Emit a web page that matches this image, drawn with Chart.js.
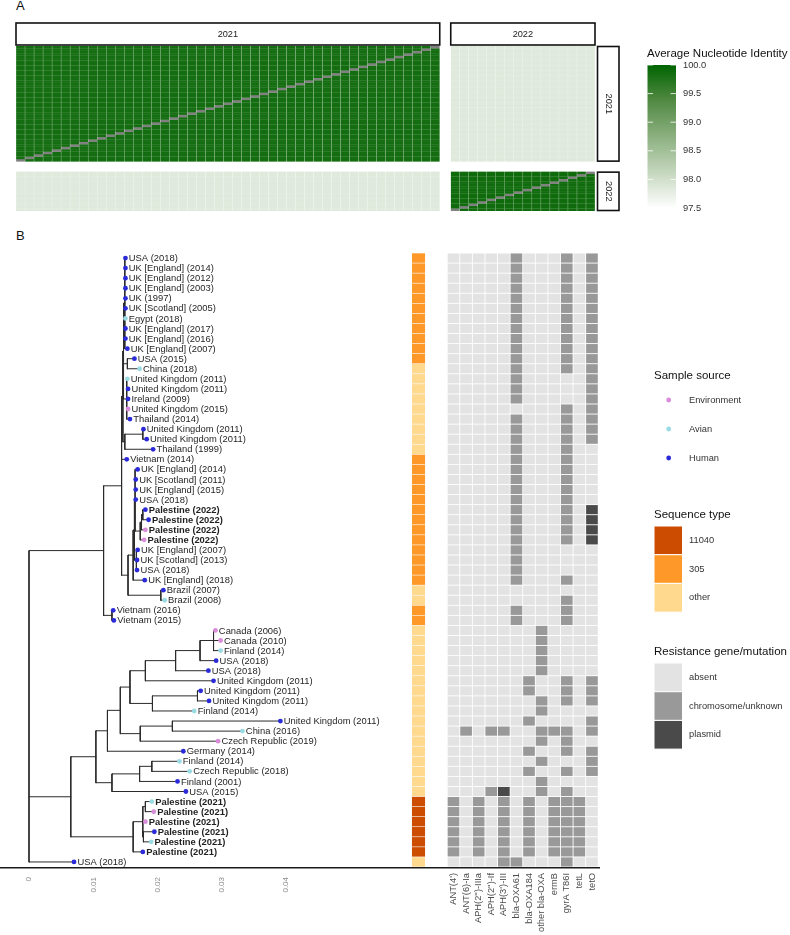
<!DOCTYPE html>
<html>
<head>
<meta charset="utf-8">
<title>ANI and phylogeny</title>
<script src="https://cdn.jsdelivr.net/npm/chart.js@4.4.1/dist/chart.umd.min.js"></script>
<style>
  html, body { margin: 0; padding: 0; background: #fff; }
  body { position: relative; width: 790px; height: 935px; overflow: hidden; font-family: "Liberation Sans", Arial, sans-serif; }
  canvas { position: absolute; }
  .tag { position: absolute; font-size: 13px; line-height: 13px; color: #111; }
</style>
</head>
<body>
<div class="tag" style="left:16px; top:-1px;">A</div>
<div class="tag" style="left:16px; top:229px;">B</div>
<canvas id="aniChart" width="790" height="225" style="left:0; top:0;"></canvas>
<canvas id="treeChart" width="400" height="695" style="left:0; top:240px;"></canvas>
<canvas id="heatChart" width="390" height="695" style="left:400px; top:240px;"></canvas>
<script>
const FONT = '"Liberation Sans", Arial, sans-serif';
Chart.defaults.font.family = FONT;
Chart.defaults.color = '#333';

// ---- panel A: average nucleotide identity between isolates ----
const aniYears = ['2021', '2022'];
const aniSampleCount = [47, 16];
const aniWithinYear = [99.85, 99.88];
const aniBetweenYears = 97.84;
const aniLegendTicks = [100.0, 99.5, 99.0, 98.5, 98.0, 97.5];

// ---- panel B: tree tips (top to bottom) ----
const tipLabels = [
  'USA (2018)', 'UK [England] (2014)', 'UK [England] (2012)', 'UK [England] (2003)', 'UK (1997)',
  'UK [Scotland] (2005)', 'Egypt (2018)', 'UK [England] (2017)', 'UK [England] (2016)', 'UK [England] (2007)',
  'USA (2015)', 'China (2018)', 'United Kingdom (2011)', 'United Kingdom (2011)', 'Ireland (2009)',
  'United Kingdom (2015)', 'Thailand (2014)', 'United Kingdom (2011)', 'United Kingdom (2011)', 'Thailand (1999)',
  'Vietnam (2014)', 'UK [England] (2014)', 'UK [Scotland] (2011)', 'UK [England] (2015)', 'USA (2018)',
  'Palestine (2022)', 'Palestine (2022)', 'Palestine (2022)', 'Palestine (2022)', 'UK [England] (2007)',
  'UK [Scotland] (2013)', 'USA (2018)', 'UK [England] (2018)', 'Brazil (2007)', 'Brazil (2008)',
  'Vietnam (2016)', 'Vietnam (2015)', 'Canada (2006)', 'Canada (2010)', 'Finland (2014)',
  'USA (2018)', 'USA (2018)', 'United Kingdom (2011)', 'United Kingdom (2011)', 'United Kingdom (2011)',
  'Finland (2014)', 'United Kingdom (2011)', 'China (2016)', 'Czech Republic (2019)', 'Germany (2014)',
  'Finland (2014)', 'Czech Republic (2018)', 'Finland (2001)', 'USA (2015)', 'Palestine (2021)',
  'Palestine (2021)', 'Palestine (2021)', 'Palestine (2021)', 'Palestine (2021)', 'Palestine (2021)',
  'USA (2018)'
];
const tipSource = [
  'Human', 'Human', 'Human', 'Human', 'Human',
  'Human', 'Avian', 'Human', 'Human', 'Human',
  'Human', 'Avian', 'Avian', 'Human', 'Human',
  'Environment', 'Human', 'Human', 'Human', 'Human',
  'Human', 'Human', 'Human', 'Human', 'Human',
  'Human', 'Human', 'Environment', 'Environment', 'Human',
  'Human', 'Human', 'Human', 'Human', 'Avian',
  'Human', 'Human', 'Environment', 'Environment', 'Avian',
  'Human', 'Human', 'Human', 'Human', 'Human',
  'Avian', 'Human', 'Avian', 'Environment', 'Human',
  'Avian', 'Avian', 'Human', 'Human', 'Avian',
  'Environment', 'Environment', 'Human', 'Avian', 'Human',
  'Human'
];
const tipDivergence = [
  0.0150, 0.0150, 0.0150, 0.0150, 0.0150, 0.0150, 0.0150, 0.0150, 0.0150, 0.0153,
  0.0164, 0.0172, 0.0153, 0.0154, 0.0154, 0.0154, 0.0157, 0.0178, 0.0183, 0.0193,
  0.0152, 0.0169, 0.0166, 0.0166, 0.0166, 0.0181, 0.0186, 0.0181, 0.0179, 0.0169,
  0.0168, 0.0168, 0.0180, 0.0209, 0.0211, 0.0131, 0.0132, 0.0290, 0.0298, 0.0298,
  0.0291, 0.0279, 0.0287, 0.0267, 0.0280, 0.0257, 0.0391, 0.0332, 0.0294, 0.0240,
  0.0234, 0.0250, 0.0231, 0.0244, 0.0191, 0.0194, 0.0181, 0.0195, 0.0190, 0.0177,
  0.0070
];
// index of the internal node each tip hangs from
const tipParent = [
  5, 5, 5, 5, 5, 5, 5, 5, 5, 5,
  6, 6, 7, 7, 7, 7, 7, 9, 9, 8,
  2, 13, 13, 13, 13, 16, 16, 15, 14, 17,
  17, 17, 11, 18, 18, 19, 19, 28, 28, 28,
  27, 26, 25, 30, 30, 29, 32, 32, 31, 22,
  35, 35, 34, 33, 38, 38, 37, 39, 39, 36,
  0
];
// internal nodes: parent node and divergence from root
const nodeParent = [
  -1, 0, 1, 2, 3, 4, 4, 4, 3, 8,
  2, 10, 11, 12, 13, 14, 15, 12, 10, 1,
  0, 20, 21, 22, 23, 24, 25, 26, 27, 24,
  29, 23, 31, 21, 33, 34, 20, 36, 37, 37
];
const nodeDivergence = [
  0, 0.0116, 0.0144, 0.0146, 0.0147, 0.0149, 0.0153, 0.0152, 0.0149, 0.0177,
  0.0154, 0.0162, 0.0164, 0.0165, 0.0173, 0.0175, 0.0177, 0.0167, 0.0205, 0.0129,
  0.0065, 0.0104, 0.0122, 0.0142, 0.0157, 0.0181, 0.0228, 0.0266, 0.0287, 0.0192,
  0.0262, 0.0173, 0.0223, 0.0129, 0.0172, 0.0191, 0.0162, 0.0177, 0.0181, 0.0178
];
const treeTicks = [0, 0.01, 0.02, 0.03, 0.04];

const sourceNames = ['Environment', 'Avian', 'Human'];
const sourceColors = ['#d98cd9', '#9adbe3', '#2a2ad9'];

const stTypes = ['11040', '305', 'other'];
const stColors = ['#cc4c02', '#fe9929', '#fed98e'];
const tipST = [
  '305', '305', '305', '305', '305', '305', '305', '305', '305', '305',
  '305', 'other', 'other', 'other', 'other', 'other', 'other', 'other', 'other', 'other',
  '305', '305', '305', '305', '305', '305', '305', '305', '305', '305',
  '305', '305', '305', 'other', 'other', '305', '305', 'other', 'other', 'other',
  'other', 'other', 'other', 'other', 'other', 'other', 'other', 'other', 'other', 'other',
  'other', 'other', 'other', 'other', '11040', '11040', '11040', '11040', '11040', '11040',
  'other'
];

const genes = ["ANT(4')", 'ANT(6)-Ia', "APH(2'')-IIIa", "APH(2'')-If", "APH(3')-III", 'bla-OXA61',
  'bla-OXA184', 'other bla-OXA', 'ermB', 'gyrA T86I', 'tetL', 'tetO'];
const resLevels = ['absent', 'chromosome/unknown', 'plasmid'];
const resColors = ['#e3e3e3', '#999999', '#4a4a4a'];
// one string per tip, one digit per gene: 0 absent, 1 chromosome/unknown, 2 plasmid
const resistance = [
  '000001000101', '000001000101', '000001000101', '000001000101', '000001000101',
  '000001000101', '000001000101', '000001000101', '000001000101', '000001000101',
  '000001000101', '000001000101', '000001000001', '000001000001', '000001000001',
  '000000000101', '000001000101', '000001000101', '000001000101', '000001000100',
  '000001000100', '000001000100', '000001000100', '000001000100', '000001000100',
  '000001000102', '000001000102', '000001000102', '000001000102', '000001000000',
  '000001000000', '000001000000', '000001000100', '000000000000', '000000000100',
  '000001000100', '000001000100', '000000010000', '000000010000', '000000010000',
  '000000010000', '000000010000', '000000100101', '000000100101', '000000010101',
  '000000010000', '000000100001', '010110011101', '000000010100', '000000100101',
  '000000010001', '000000100101', '000000010000', '000120010100', '101010101110',
  '101010101110', '101010101110', '101010101110', '101010101110', '101010101110',
  '000011000100'
];

// ---------- panel A ----------
const facetGapX = 1.22, facetGapY = 4.07;
const aniStops = [[255, 255, 255], [197, 215, 190], [139, 176, 127], [82, 138, 68], [0, 100, 0]];
function aniColor(v) {
  const t = Math.max(0, Math.min(1, (v - 97.5) / 2.5)) * 4;
  const i = Math.min(3, Math.floor(t)), f = t - i;
  const c = aniStops[i].map((a, k) => Math.round(a + (aniStops[i + 1][k] - a) * f));
  return `rgb(${c[0]},${c[1]},${c[2]})`;
}

const aniPlugin = {
  id: 'aniTiles',
  afterDraw(chart) {
    const { ctx, scales: { x, y } } = chart;
    const colStart = [0, aniSampleCount[0] + facetGapX];
    const rowStart = [0, aniSampleCount[0] + facetGapY];
    ctx.save();
    aniYears.forEach((ry, ri) => {
      aniYears.forEach((cy, ci) => {
        for (let i = 0; i < aniSampleCount[ri]; i++) {
          const r = rowStart[ri] + aniSampleCount[ri] - 1 - i;
          const y0 = y.getPixelForValue(r), y1 = y.getPixelForValue(r + 1);
          const top = i === aniSampleCount[ri] - 1 ? y0 : y0 - 0.25;
          for (let j = 0; j < aniSampleCount[ci]; j++) {
            const v = ri === ci ? (i === j ? null : aniWithinYear[ri]) : aniBetweenYears;
            const x0 = x.getPixelForValue(colStart[ci] + j), x1 = x.getPixelForValue(colStart[ci] + j + 1);
            ctx.fillStyle = v === null ? '#808080' : aniColor(v);
            ctx.fillRect(x0 + 0.15, top, x1 - x0 - 0.3, y1 - top);
          }
        }
      });
    });

    // facet strips
    ctx.lineWidth = 1.6;
    ctx.strokeStyle = '#111';
    ctx.font = '9.2px ' + FONT;
    ctx.textAlign = 'center';
    ctx.textBaseline = 'middle';
    aniYears.forEach((yr, k) => {
      const x0 = x.getPixelForValue(colStart[k]), x1 = x.getPixelForValue(colStart[k] + aniSampleCount[k]);
      ctx.fillStyle = '#fff';
      ctx.fillRect(x0, 23, x1 - x0, 22);
      ctx.strokeRect(x0, 23, x1 - x0, 22);
      ctx.fillStyle = '#1a1a1a';
      ctx.fillText(yr, (x0 + x1) / 2, 34);

      const y0 = y.getPixelForValue(rowStart[k]), y1 = y.getPixelForValue(rowStart[k] + aniSampleCount[k]);
      ctx.fillStyle = '#fff';
      ctx.fillRect(597.5, y0 + 0.5, 21.5, y1 - y0 - 1);
      ctx.strokeRect(597.5, y0 + 0.5, 21.5, y1 - y0 - 1);
      ctx.save();
      ctx.translate(608.2, (y0 + y1) / 2);
      ctx.rotate(Math.PI / 2);
      ctx.fillStyle = '#1a1a1a';
      ctx.fillText(yr, 0, 0);
      ctx.restore();
    });

    // colour bar legend
    const bx = 647.5, by = 65, bw = 28.5, bh = 143;
    ctx.textAlign = 'left';
    ctx.font = '11.5px ' + FONT;
    ctx.fillStyle = '#111';
    ctx.fillText('Average Nucleotide Identity', 647, 54);
    const grad = ctx.createLinearGradient(0, by, 0, by + bh);
    for (let k = 0; k <= 20; k++) grad.addColorStop(k / 20, aniColor(100 - 2.5 * k / 20));
    ctx.fillStyle = grad;
    ctx.fillRect(bx, by, bw, bh);
    ctx.font = '9.3px ' + FONT;
    ctx.strokeStyle = 'rgba(255,255,255,0.8)';
    ctx.lineWidth = 1;
    aniLegendTicks.forEach(v => {
      const ty = by + (100 - v) / 2.5 * bh;
      ctx.beginPath();
      ctx.moveTo(bx, ty); ctx.lineTo(bx + 5.5, ty);
      ctx.moveTo(bx + bw - 5.5, ty); ctx.lineTo(bx + bw, ty);
      ctx.stroke();
      ctx.fillStyle = '#333';
      ctx.fillText(v.toFixed(1), 683, ty);
    });
    ctx.restore();
  }
};

new Chart(document.getElementById('aniChart'), {
  type: 'scatter',
  data: { datasets: [] },
  options: {
    responsive: false,
    animation: false,
    events: [],
    layout: { padding: { left: 16, right: 195, top: 46, bottom: 14 }, autoPadding: false },
    plugins: { legend: { display: false }, tooltip: { enabled: false } },
    scales: {
      x: { type: 'linear', display: false, min: 0, max: aniSampleCount[0] + facetGapX + aniSampleCount[1] },
      y: { type: 'linear', display: false, reverse: true, min: 0, max: aniSampleCount[0] + facetGapY + aniSampleCount[1] }
    }
  },
  plugins: [aniPlugin]
});

// ---------- panel B: tree ----------
const children = nodeParent.map(() => []);
nodeParent.forEach((p, n) => { if (p >= 0) children[p].push({ node: n }); });
tipParent.forEach((p, i) => children[p].push({ tip: i }));
const nodeRow = [];
function rowOf(c) { return c.tip !== undefined ? c.tip : placeNode(c.node); }
function placeNode(n) {
  if (nodeRow[n] === undefined) {
    const rows = children[n].map(rowOf);
    nodeRow[n] = (Math.min(...rows) + Math.max(...rows)) / 2;
  }
  return nodeRow[n];
}
placeNode(0);

const branchPts = [];
children.forEach((kids, n) => {
  const rows = kids.map(rowOf);
  const nx = nodeDivergence[n];
  branchPts.push({ x: nx, y: Math.min(...rows) }, { x: nx, y: Math.max(...rows) }, { x: null, y: null });
  kids.forEach((c, k) => {
    const cx = c.tip !== undefined ? tipDivergence[c.tip] : nodeDivergence[c.node];
    branchPts.push({ x: nx, y: rows[k] }, { x: cx, y: rows[k] }, { x: null, y: null });
  });
});

const pointSets = sourceNames.map((s, k) => ({
  label: s,
  data: tipSource.map((src, i) => (src === s ? { x: tipDivergence[i], y: i } : null)).filter(Boolean),
  backgroundColor: sourceColors[k],
  borderWidth: 0,
  pointRadius: 2.4,
  order: 0
}));

const tipLabelPlugin = {
  id: 'tipLabels',
  afterDatasetsDraw(chart) {
    const { ctx, scales: { x, y } } = chart;
    ctx.save();
    ctx.fillStyle = '#1f1f1f';
    ctx.textAlign = 'left';
    ctx.textBaseline = 'middle';
    tipLabels.forEach((lab, i) => {
      ctx.font = (lab.startsWith('Palestine') ? 'bold ' : '') + '9.4px ' + FONT;
      ctx.fillText(lab, x.getPixelForValue(tipDivergence[i]) + 3.4, y.getPixelForValue(i) + 0.5);
    });
    ctx.restore();
  }
};

new Chart(document.getElementById('treeChart'), {
  type: 'scatter',
  data: {
    datasets: [...pointSets, {
      label: 'branches',
      data: branchPts,
      showLine: true,
      spanGaps: false,
      borderColor: '#2b2b2b',
      borderWidth: 1,
      borderCapStyle: 'square',
      pointRadius: 0,
      order: 1
    }]
  },
  options: {
    responsive: false,
    animation: false,
    events: [],
    layout: { padding: { left: 0, right: 0, top: 12, bottom: 0 }, autoPadding: false },
    plugins: { legend: { display: false }, tooltip: { enabled: false } },
    scales: {
      x: {
        type: 'linear', min: -0.00451, max: 0.0577,
        grid: { display: false, drawTicks: false },
        border: { display: true, color: '#1a1a1a', width: 1.5 },
        ticks: {
          autoSkip: false, minRotation: 90, maxRotation: 90, padding: 9,
          color: '#8c8c8c', font: { size: 8 },
          callback: v => (v === 0 ? '0' : v.toFixed(2))
        },
        afterBuildTicks: s => { s.ticks = treeTicks.map(v => ({ value: v })); },
        afterFit: s => { s.height = 67; s.paddingLeft = 0; s.paddingRight = 0; }
      },
      y: { type: 'linear', display: false, reverse: true, min: -0.6, max: 60.6 }
    }
  },
  plugins: [tipLabelPlugin]
});

// ---------- panel B: sequence type + resistance heatmap ----------
const stColumn = -2.78;
const heatPlugin = {
  id: 'heatCells',
  beforeDatasetsDraw(chart) {
    const { ctx, scales: { x, y } } = chart;
    ctx.save();
    tipST.forEach((st, r) => {
      const y0 = y.getPixelForValue(r - 0.5), y1 = y.getPixelForValue(r + 0.5);
      const sx0 = x.getPixelForValue(stColumn - 0.52), sx1 = x.getPixelForValue(stColumn + 0.52);
      ctx.fillStyle = stColors[stTypes.indexOf(st)];
      ctx.fillRect(sx0, y0 + 0.3, sx1 - sx0, y1 - y0 - 0.6);
      resistance[r].split('').forEach((c, g) => {
        const gx0 = x.getPixelForValue(g - 0.5), gx1 = x.getPixelForValue(g + 0.5);
        ctx.fillStyle = resColors[+c];
        ctx.fillRect(gx0 + 0.45, y0 + 0.45, gx1 - gx0 - 0.9, y1 - y0 - 0.9);
      });
    });
    ctx.restore();
  }
};

const legendPlugin = {
  id: 'sideLegends',
  afterDraw(chart) {
    const ctx = chart.ctx;
    const lx = 254;
    ctx.save();
    ctx.textAlign = 'left';
    ctx.textBaseline = 'middle';
    const title = (t, ty) => { ctx.font = '11.5px ' + FONT; ctx.fillStyle = '#111'; ctx.fillText(t, lx, ty); };
    const label = (t, ty) => { ctx.font = '9.3px ' + FONT; ctx.fillStyle = '#333'; ctx.fillText(t, lx + 35, ty); };

    title('Sample source', 136);
    sourceNames.forEach((s, k) => {
      const cy = 160 + 29 * k;
      ctx.fillStyle = sourceColors[k];
      ctx.beginPath();
      ctx.arc(lx + 14.7, cy, 2.4, 0, Math.PI * 2);
      ctx.fill();
      label(s, cy);
    });

    const boxes = (names, colors, top) => {
      names.forEach((s, k) => {
        const t = top + 28.7 * k;
        ctx.fillStyle = colors[k];
        ctx.fillRect(lx, t, 28.5, 28.7);
        ctx.strokeStyle = '#fff';
        ctx.lineWidth = 1;
        ctx.strokeRect(lx, t, 28.5, 28.7);
        label(s, t + 14.35);
      });
    };
    title('Sequence type', 275);
    boxes(stTypes, stColors, 286);
    title('Resistance gene/mutation', 412);
    boxes(resLevels, resColors, 423);
    ctx.restore();
  }
};

new Chart(document.getElementById('heatChart'), {
  type: 'scatter',
  data: { datasets: [] },
  options: {
    responsive: false,
    animation: false,
    events: [],
    layout: { padding: { left: 0, right: 191, top: 12, bottom: 0 }, autoPadding: false },
    plugins: { legend: { display: false }, tooltip: { enabled: false } },
    scales: {
      x: {
        type: 'linear', min: -4.25, max: 11.56,
        grid: { display: false, drawTicks: false },
        border: { display: true, color: '#1a1a1a', width: 1.5 },
        ticks: {
          autoSkip: false, minRotation: 90, maxRotation: 90, padding: 5,
          color: '#4d4d4d', font: { size: 9.3 },
          callback: v => genes[v]
        },
        afterBuildTicks: s => { s.ticks = genes.map((g, i) => ({ value: i })); },
        afterFit: s => { s.height = 67; s.paddingLeft = 0; s.paddingRight = 0; }
      },
      y: { type: 'linear', display: false, reverse: true, min: -0.6, max: 60.6 }
    }
  },
  plugins: [heatPlugin, legendPlugin]
});
</script>
</body>
</html>
